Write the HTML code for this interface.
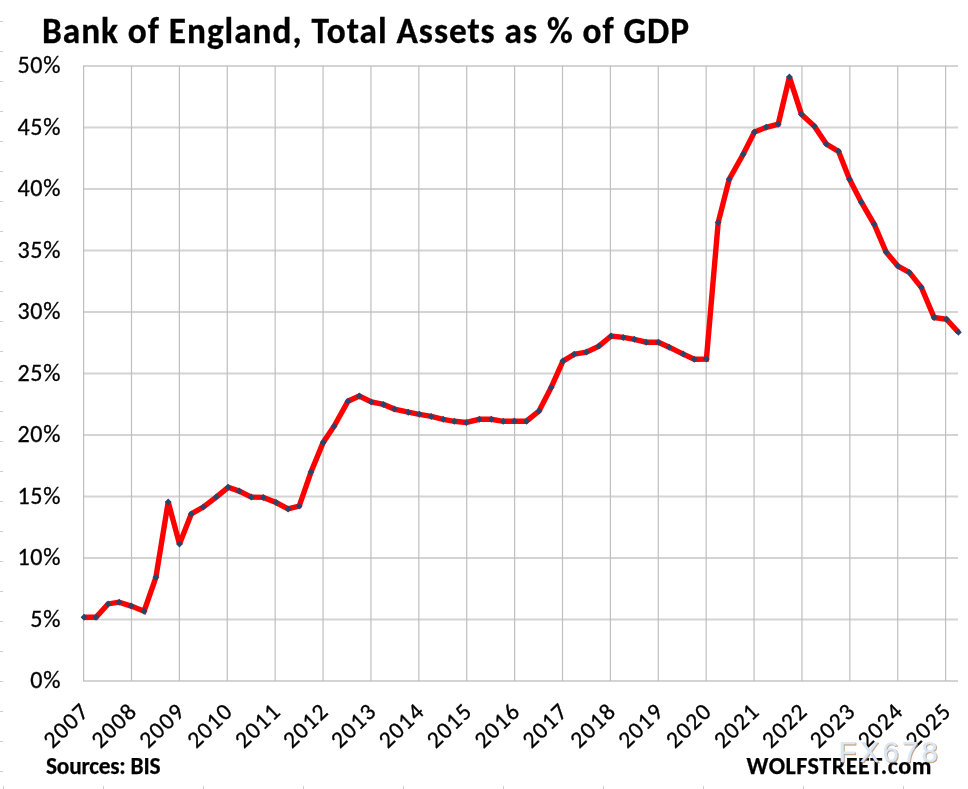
<!DOCTYPE html>
<html><head><meta charset="utf-8"><title>Bank of England, Total Assets as % of GDP</title>
<style>
html,body{margin:0;padding:0;background:#fff;width:968px;height:789px;overflow:hidden}
svg{display:block;font-family:'Carlito','Liberation Sans',sans-serif}
.t{will-change:transform}
</style></head><body>
<svg width="968" height="789" viewBox="0 0 968 789">
<rect width="968" height="789" fill="#fff"/>
<g class="t"><line x1="0" y1="21.5" x2="3" y2="21.5" stroke="#cfcfcf" stroke-width="1"/>
<line x1="0" y1="51.5" x2="3" y2="51.5" stroke="#cfcfcf" stroke-width="1"/>
<line x1="0" y1="81.5" x2="3" y2="81.5" stroke="#cfcfcf" stroke-width="1"/>
<line x1="0" y1="111.5" x2="3" y2="111.5" stroke="#cfcfcf" stroke-width="1"/>
<line x1="0" y1="141.5" x2="3" y2="141.5" stroke="#cfcfcf" stroke-width="1"/>
<line x1="0" y1="171.5" x2="3" y2="171.5" stroke="#cfcfcf" stroke-width="1"/>
<line x1="0" y1="201.5" x2="3" y2="201.5" stroke="#cfcfcf" stroke-width="1"/>
<line x1="0" y1="231.5" x2="3" y2="231.5" stroke="#cfcfcf" stroke-width="1"/>
<line x1="0" y1="261.5" x2="3" y2="261.5" stroke="#cfcfcf" stroke-width="1"/>
<line x1="0" y1="291.5" x2="3" y2="291.5" stroke="#cfcfcf" stroke-width="1"/>
<line x1="0" y1="321.5" x2="3" y2="321.5" stroke="#cfcfcf" stroke-width="1"/>
<line x1="0" y1="351.5" x2="3" y2="351.5" stroke="#cfcfcf" stroke-width="1"/>
<line x1="0" y1="381.5" x2="3" y2="381.5" stroke="#cfcfcf" stroke-width="1"/>
<line x1="0" y1="411.5" x2="3" y2="411.5" stroke="#cfcfcf" stroke-width="1"/>
<line x1="0" y1="441.5" x2="3" y2="441.5" stroke="#cfcfcf" stroke-width="1"/>
<line x1="0" y1="471.5" x2="3" y2="471.5" stroke="#cfcfcf" stroke-width="1"/>
<line x1="0" y1="501.5" x2="3" y2="501.5" stroke="#cfcfcf" stroke-width="1"/>
<line x1="0" y1="531.5" x2="3" y2="531.5" stroke="#cfcfcf" stroke-width="1"/>
<line x1="0" y1="561.5" x2="3" y2="561.5" stroke="#cfcfcf" stroke-width="1"/>
<line x1="0" y1="591.5" x2="3" y2="591.5" stroke="#cfcfcf" stroke-width="1"/>
<line x1="0" y1="621.5" x2="3" y2="621.5" stroke="#cfcfcf" stroke-width="1"/>
<line x1="0" y1="651.5" x2="3" y2="651.5" stroke="#cfcfcf" stroke-width="1"/>
<line x1="0" y1="681.5" x2="3" y2="681.5" stroke="#cfcfcf" stroke-width="1"/>
<line x1="0" y1="711.5" x2="3" y2="711.5" stroke="#cfcfcf" stroke-width="1"/>
<line x1="0" y1="741.5" x2="3" y2="741.5" stroke="#cfcfcf" stroke-width="1"/>
<line x1="0" y1="771.5" x2="3" y2="771.5" stroke="#cfcfcf" stroke-width="1"/>
<line x1="3.5" y1="786" x2="3.5" y2="789" stroke="#cfcfcf" stroke-width="1"/>
<line x1="103.5" y1="786" x2="103.5" y2="789" stroke="#cfcfcf" stroke-width="1"/>
<line x1="203.5" y1="786" x2="203.5" y2="789" stroke="#cfcfcf" stroke-width="1"/>
<line x1="303.5" y1="786" x2="303.5" y2="789" stroke="#cfcfcf" stroke-width="1"/>
<line x1="403.5" y1="786" x2="403.5" y2="789" stroke="#cfcfcf" stroke-width="1"/>
<line x1="503.5" y1="786" x2="503.5" y2="789" stroke="#cfcfcf" stroke-width="1"/>
<line x1="603.5" y1="786" x2="603.5" y2="789" stroke="#cfcfcf" stroke-width="1"/>
<line x1="703.5" y1="786" x2="703.5" y2="789" stroke="#cfcfcf" stroke-width="1"/>
<line x1="803.5" y1="786" x2="803.5" y2="789" stroke="#cfcfcf" stroke-width="1"/>
<line x1="903.5" y1="786" x2="903.5" y2="789" stroke="#cfcfcf" stroke-width="1"/>
<line x1="83.00" y1="680.90" x2="958" y2="680.90" stroke="#d4d4d4" stroke-width="2"/>
<line x1="83.00" y1="619.40" x2="958" y2="619.40" stroke="#d4d4d4" stroke-width="2"/>
<line x1="83.00" y1="557.90" x2="958" y2="557.90" stroke="#d4d4d4" stroke-width="2"/>
<line x1="83.00" y1="496.40" x2="958" y2="496.40" stroke="#d4d4d4" stroke-width="2"/>
<line x1="83.00" y1="434.90" x2="958" y2="434.90" stroke="#d4d4d4" stroke-width="2"/>
<line x1="83.00" y1="373.40" x2="958" y2="373.40" stroke="#d4d4d4" stroke-width="2"/>
<line x1="83.00" y1="311.90" x2="958" y2="311.90" stroke="#d4d4d4" stroke-width="2"/>
<line x1="83.00" y1="250.40" x2="958" y2="250.40" stroke="#d4d4d4" stroke-width="2"/>
<line x1="83.00" y1="188.90" x2="958" y2="188.90" stroke="#d4d4d4" stroke-width="2"/>
<line x1="83.00" y1="127.40" x2="958" y2="127.40" stroke="#d4d4d4" stroke-width="2"/>
<line x1="83.00" y1="65.90" x2="958" y2="65.90" stroke="#d4d4d4" stroke-width="2"/>
<line x1="83.60" y1="65.9" x2="83.60" y2="680.9" stroke="#bfbfbf" stroke-width="1.2"/>
<line x1="131.49" y1="65.9" x2="131.49" y2="680.9" stroke="#bfbfbf" stroke-width="1.2"/>
<line x1="179.38" y1="65.9" x2="179.38" y2="680.9" stroke="#bfbfbf" stroke-width="1.2"/>
<line x1="227.27" y1="65.9" x2="227.27" y2="680.9" stroke="#bfbfbf" stroke-width="1.2"/>
<line x1="275.16" y1="65.9" x2="275.16" y2="680.9" stroke="#bfbfbf" stroke-width="1.2"/>
<line x1="323.05" y1="65.9" x2="323.05" y2="680.9" stroke="#bfbfbf" stroke-width="1.2"/>
<line x1="370.94" y1="65.9" x2="370.94" y2="680.9" stroke="#bfbfbf" stroke-width="1.2"/>
<line x1="418.83" y1="65.9" x2="418.83" y2="680.9" stroke="#bfbfbf" stroke-width="1.2"/>
<line x1="466.72" y1="65.9" x2="466.72" y2="680.9" stroke="#bfbfbf" stroke-width="1.2"/>
<line x1="514.61" y1="65.9" x2="514.61" y2="680.9" stroke="#bfbfbf" stroke-width="1.2"/>
<line x1="562.50" y1="65.9" x2="562.50" y2="680.9" stroke="#bfbfbf" stroke-width="1.2"/>
<line x1="610.39" y1="65.9" x2="610.39" y2="680.9" stroke="#bfbfbf" stroke-width="1.2"/>
<line x1="658.28" y1="65.9" x2="658.28" y2="680.9" stroke="#bfbfbf" stroke-width="1.2"/>
<line x1="706.17" y1="65.9" x2="706.17" y2="680.9" stroke="#bfbfbf" stroke-width="1.2"/>
<line x1="754.06" y1="65.9" x2="754.06" y2="680.9" stroke="#bfbfbf" stroke-width="1.2"/>
<line x1="801.95" y1="65.9" x2="801.95" y2="680.9" stroke="#bfbfbf" stroke-width="1.2"/>
<line x1="849.84" y1="65.9" x2="849.84" y2="680.9" stroke="#bfbfbf" stroke-width="1.2"/>
<line x1="897.73" y1="65.9" x2="897.73" y2="680.9" stroke="#bfbfbf" stroke-width="1.2"/>
<line x1="945.62" y1="65.9" x2="945.62" y2="680.9" stroke="#bfbfbf" stroke-width="1.2"/>
<text x="61.2" y="688.35" text-anchor="end" font-size="23.8" letter-spacing="0.7" textLength="30.84" lengthAdjust="spacingAndGlyphs" fill="#000" stroke="#000" stroke-width="0.3">0%</text>
<text x="61.2" y="626.85" text-anchor="end" font-size="23.8" letter-spacing="0.7" textLength="30.84" lengthAdjust="spacingAndGlyphs" fill="#000" stroke="#000" stroke-width="0.3">5%</text>
<text x="61.2" y="565.35" text-anchor="end" font-size="23.8" letter-spacing="0.7" textLength="43.75" lengthAdjust="spacingAndGlyphs" fill="#000" stroke="#000" stroke-width="0.3">10%</text>
<text x="61.2" y="503.85" text-anchor="end" font-size="23.8" letter-spacing="0.7" textLength="43.75" lengthAdjust="spacingAndGlyphs" fill="#000" stroke="#000" stroke-width="0.3">15%</text>
<text x="61.2" y="442.35" text-anchor="end" font-size="23.8" letter-spacing="0.7" textLength="43.75" lengthAdjust="spacingAndGlyphs" fill="#000" stroke="#000" stroke-width="0.3">20%</text>
<text x="61.2" y="380.85" text-anchor="end" font-size="23.8" letter-spacing="0.7" textLength="43.75" lengthAdjust="spacingAndGlyphs" fill="#000" stroke="#000" stroke-width="0.3">25%</text>
<text x="61.2" y="319.35" text-anchor="end" font-size="23.8" letter-spacing="0.7" textLength="43.75" lengthAdjust="spacingAndGlyphs" fill="#000" stroke="#000" stroke-width="0.3">30%</text>
<text x="61.2" y="257.85" text-anchor="end" font-size="23.8" letter-spacing="0.7" textLength="43.75" lengthAdjust="spacingAndGlyphs" fill="#000" stroke="#000" stroke-width="0.3">35%</text>
<text x="61.2" y="196.35" text-anchor="end" font-size="23.8" letter-spacing="0.7" textLength="43.75" lengthAdjust="spacingAndGlyphs" fill="#000" stroke="#000" stroke-width="0.3">40%</text>
<text x="61.2" y="134.85" text-anchor="end" font-size="23.8" letter-spacing="0.7" textLength="43.75" lengthAdjust="spacingAndGlyphs" fill="#000" stroke="#000" stroke-width="0.3">45%</text>
<text x="61.2" y="73.35" text-anchor="end" font-size="23.8" letter-spacing="0.7" textLength="43.75" lengthAdjust="spacingAndGlyphs" fill="#000" stroke="#000" stroke-width="0.3">50%</text>
<text transform="translate(90.70,712.5) rotate(-44)" text-anchor="end" font-size="23.6" letter-spacing="1.3" textLength="53.05" lengthAdjust="spacingAndGlyphs" fill="#000" stroke="#000" stroke-width="0.3">2007</text>
<text transform="translate(138.59,712.5) rotate(-44)" text-anchor="end" font-size="23.6" letter-spacing="1.3" textLength="53.05" lengthAdjust="spacingAndGlyphs" fill="#000" stroke="#000" stroke-width="0.3">2008</text>
<text transform="translate(186.48,712.5) rotate(-44)" text-anchor="end" font-size="23.6" letter-spacing="1.3" textLength="53.05" lengthAdjust="spacingAndGlyphs" fill="#000" stroke="#000" stroke-width="0.3">2009</text>
<text transform="translate(234.37,712.5) rotate(-44)" text-anchor="end" font-size="23.6" letter-spacing="1.3" textLength="53.05" lengthAdjust="spacingAndGlyphs" fill="#000" stroke="#000" stroke-width="0.3">2010</text>
<text transform="translate(282.26,712.5) rotate(-44)" text-anchor="end" font-size="23.6" letter-spacing="1.3" textLength="53.05" lengthAdjust="spacingAndGlyphs" fill="#000" stroke="#000" stroke-width="0.3">2011</text>
<text transform="translate(330.15,712.5) rotate(-44)" text-anchor="end" font-size="23.6" letter-spacing="1.3" textLength="53.05" lengthAdjust="spacingAndGlyphs" fill="#000" stroke="#000" stroke-width="0.3">2012</text>
<text transform="translate(378.04,712.5) rotate(-44)" text-anchor="end" font-size="23.6" letter-spacing="1.3" textLength="53.05" lengthAdjust="spacingAndGlyphs" fill="#000" stroke="#000" stroke-width="0.3">2013</text>
<text transform="translate(425.93,712.5) rotate(-44)" text-anchor="end" font-size="23.6" letter-spacing="1.3" textLength="53.05" lengthAdjust="spacingAndGlyphs" fill="#000" stroke="#000" stroke-width="0.3">2014</text>
<text transform="translate(473.82,712.5) rotate(-44)" text-anchor="end" font-size="23.6" letter-spacing="1.3" textLength="53.05" lengthAdjust="spacingAndGlyphs" fill="#000" stroke="#000" stroke-width="0.3">2015</text>
<text transform="translate(521.71,712.5) rotate(-44)" text-anchor="end" font-size="23.6" letter-spacing="1.3" textLength="53.05" lengthAdjust="spacingAndGlyphs" fill="#000" stroke="#000" stroke-width="0.3">2016</text>
<text transform="translate(569.60,712.5) rotate(-44)" text-anchor="end" font-size="23.6" letter-spacing="1.3" textLength="53.05" lengthAdjust="spacingAndGlyphs" fill="#000" stroke="#000" stroke-width="0.3">2017</text>
<text transform="translate(617.49,712.5) rotate(-44)" text-anchor="end" font-size="23.6" letter-spacing="1.3" textLength="53.05" lengthAdjust="spacingAndGlyphs" fill="#000" stroke="#000" stroke-width="0.3">2018</text>
<text transform="translate(665.38,712.5) rotate(-44)" text-anchor="end" font-size="23.6" letter-spacing="1.3" textLength="53.05" lengthAdjust="spacingAndGlyphs" fill="#000" stroke="#000" stroke-width="0.3">2019</text>
<text transform="translate(713.27,712.5) rotate(-44)" text-anchor="end" font-size="23.6" letter-spacing="1.3" textLength="53.05" lengthAdjust="spacingAndGlyphs" fill="#000" stroke="#000" stroke-width="0.3">2020</text>
<text transform="translate(761.16,712.5) rotate(-44)" text-anchor="end" font-size="23.6" letter-spacing="1.3" textLength="53.05" lengthAdjust="spacingAndGlyphs" fill="#000" stroke="#000" stroke-width="0.3">2021</text>
<text transform="translate(809.05,712.5) rotate(-44)" text-anchor="end" font-size="23.6" letter-spacing="1.3" textLength="53.05" lengthAdjust="spacingAndGlyphs" fill="#000" stroke="#000" stroke-width="0.3">2022</text>
<text transform="translate(856.94,712.5) rotate(-44)" text-anchor="end" font-size="23.6" letter-spacing="1.3" textLength="53.05" lengthAdjust="spacingAndGlyphs" fill="#000" stroke="#000" stroke-width="0.3">2023</text>
<text transform="translate(904.83,712.5) rotate(-44)" text-anchor="end" font-size="23.6" letter-spacing="1.3" textLength="53.05" lengthAdjust="spacingAndGlyphs" fill="#000" stroke="#000" stroke-width="0.3">2024</text>
<text transform="translate(952.72,712.5) rotate(-44)" text-anchor="end" font-size="23.6" letter-spacing="1.3" textLength="53.05" lengthAdjust="spacingAndGlyphs" fill="#000" stroke="#000" stroke-width="0.3">2025</text>
<path d="M84.00,617.20 L96.00,617.20 L108.10,603.90 L119.10,602.20 L131.30,606.10 L144.10,611.20 L155.90,577.30 L168.20,502.00 L179.50,544.10 L191.30,513.90 L203.30,507.10 L216.20,497.10 L228.20,487.30 L239.20,491.10 L251.30,497.10 L263.30,497.40 L276.10,502.50 L288.10,508.90 L299.20,506.10 L311.00,472.00 L323.20,442.40 L334.10,426.20 L348.00,401.20 L359.30,396.00 L371.30,402.00 L383.40,404.40 L394.40,409.10 L408.30,412.20 L419.40,414.30 L431.30,416.40 L443.20,419.30 L454.30,421.30 L466.30,422.40 L479.40,419.30 L491.30,419.30 L503.20,421.30 L514.30,421.10 L526.40,421.20 L539.00,411.10 L551.20,387.40 L562.90,361.10 L574.20,354.20 L586.40,352.10 L598.90,346.10 L611.10,336.00 L623.30,337.40 L634.30,339.30 L646.30,342.20 L658.40,342.20 L669.20,347.20 L683.20,354.10 L694.30,359.30 L706.40,359.10 L718.20,222.40 L729.20,179.30 L743.20,154.20 L754.40,132.10 L766.20,127.30 L778.20,124.20 L789.40,77.10 L801.40,114.20 L814.40,126.20 L826.30,144.10 L838.50,151.30 L849.50,179.20 L861.30,202.20 L874.20,224.30 L886.10,252.10 L897.90,266.10 L909.30,272.40 L921.30,287.30 L934.10,317.50 L946.50,319.20 L958.40,332.30" fill="none" stroke="#ff0000" stroke-width="5.4" stroke-linejoin="miter" stroke-miterlimit="2" stroke-linecap="butt"/>
<path d="M84.00,613.70 L87.40,617.20 L84.00,620.70 L80.60,617.20 Z" fill="#26476c"/>
<path d="M96.00,613.70 L99.40,617.20 L96.00,620.70 L92.60,617.20 Z" fill="#26476c"/>
<path d="M108.10,600.40 L111.50,603.90 L108.10,607.40 L104.70,603.90 Z" fill="#26476c"/>
<path d="M119.10,598.70 L122.50,602.20 L119.10,605.70 L115.70,602.20 Z" fill="#26476c"/>
<path d="M131.30,602.60 L134.70,606.10 L131.30,609.60 L127.90,606.10 Z" fill="#26476c"/>
<path d="M144.10,607.70 L147.50,611.20 L144.10,614.70 L140.70,611.20 Z" fill="#26476c"/>
<path d="M155.90,573.80 L159.30,577.30 L155.90,580.80 L152.50,577.30 Z" fill="#26476c"/>
<path d="M168.20,498.50 L171.60,502.00 L168.20,505.50 L164.80,502.00 Z" fill="#26476c"/>
<path d="M179.50,540.60 L182.90,544.10 L179.50,547.60 L176.10,544.10 Z" fill="#26476c"/>
<path d="M191.30,510.40 L194.70,513.90 L191.30,517.40 L187.90,513.90 Z" fill="#26476c"/>
<path d="M203.30,503.60 L206.70,507.10 L203.30,510.60 L199.90,507.10 Z" fill="#26476c"/>
<path d="M216.20,493.60 L219.60,497.10 L216.20,500.60 L212.80,497.10 Z" fill="#26476c"/>
<path d="M228.20,483.80 L231.60,487.30 L228.20,490.80 L224.80,487.30 Z" fill="#26476c"/>
<path d="M239.20,487.60 L242.60,491.10 L239.20,494.60 L235.80,491.10 Z" fill="#26476c"/>
<path d="M251.30,493.60 L254.70,497.10 L251.30,500.60 L247.90,497.10 Z" fill="#26476c"/>
<path d="M263.30,493.90 L266.70,497.40 L263.30,500.90 L259.90,497.40 Z" fill="#26476c"/>
<path d="M276.10,499.00 L279.50,502.50 L276.10,506.00 L272.70,502.50 Z" fill="#26476c"/>
<path d="M288.10,505.40 L291.50,508.90 L288.10,512.40 L284.70,508.90 Z" fill="#26476c"/>
<path d="M299.20,502.60 L302.60,506.10 L299.20,509.60 L295.80,506.10 Z" fill="#26476c"/>
<path d="M311.00,468.50 L314.40,472.00 L311.00,475.50 L307.60,472.00 Z" fill="#26476c"/>
<path d="M323.20,438.90 L326.60,442.40 L323.20,445.90 L319.80,442.40 Z" fill="#26476c"/>
<path d="M334.10,422.70 L337.50,426.20 L334.10,429.70 L330.70,426.20 Z" fill="#26476c"/>
<path d="M348.00,397.70 L351.40,401.20 L348.00,404.70 L344.60,401.20 Z" fill="#26476c"/>
<path d="M359.30,392.50 L362.70,396.00 L359.30,399.50 L355.90,396.00 Z" fill="#26476c"/>
<path d="M371.30,398.50 L374.70,402.00 L371.30,405.50 L367.90,402.00 Z" fill="#26476c"/>
<path d="M383.40,400.90 L386.80,404.40 L383.40,407.90 L380.00,404.40 Z" fill="#26476c"/>
<path d="M394.40,405.60 L397.80,409.10 L394.40,412.60 L391.00,409.10 Z" fill="#26476c"/>
<path d="M408.30,408.70 L411.70,412.20 L408.30,415.70 L404.90,412.20 Z" fill="#26476c"/>
<path d="M419.40,410.80 L422.80,414.30 L419.40,417.80 L416.00,414.30 Z" fill="#26476c"/>
<path d="M431.30,412.90 L434.70,416.40 L431.30,419.90 L427.90,416.40 Z" fill="#26476c"/>
<path d="M443.20,415.80 L446.60,419.30 L443.20,422.80 L439.80,419.30 Z" fill="#26476c"/>
<path d="M454.30,417.80 L457.70,421.30 L454.30,424.80 L450.90,421.30 Z" fill="#26476c"/>
<path d="M466.30,418.90 L469.70,422.40 L466.30,425.90 L462.90,422.40 Z" fill="#26476c"/>
<path d="M479.40,415.80 L482.80,419.30 L479.40,422.80 L476.00,419.30 Z" fill="#26476c"/>
<path d="M491.30,415.80 L494.70,419.30 L491.30,422.80 L487.90,419.30 Z" fill="#26476c"/>
<path d="M503.20,417.80 L506.60,421.30 L503.20,424.80 L499.80,421.30 Z" fill="#26476c"/>
<path d="M514.30,417.60 L517.70,421.10 L514.30,424.60 L510.90,421.10 Z" fill="#26476c"/>
<path d="M526.40,417.70 L529.80,421.20 L526.40,424.70 L523.00,421.20 Z" fill="#26476c"/>
<path d="M539.00,407.60 L542.40,411.10 L539.00,414.60 L535.60,411.10 Z" fill="#26476c"/>
<path d="M551.20,383.90 L554.60,387.40 L551.20,390.90 L547.80,387.40 Z" fill="#26476c"/>
<path d="M562.90,357.60 L566.30,361.10 L562.90,364.60 L559.50,361.10 Z" fill="#26476c"/>
<path d="M574.20,350.70 L577.60,354.20 L574.20,357.70 L570.80,354.20 Z" fill="#26476c"/>
<path d="M586.40,348.60 L589.80,352.10 L586.40,355.60 L583.00,352.10 Z" fill="#26476c"/>
<path d="M598.90,342.60 L602.30,346.10 L598.90,349.60 L595.50,346.10 Z" fill="#26476c"/>
<path d="M611.10,332.50 L614.50,336.00 L611.10,339.50 L607.70,336.00 Z" fill="#26476c"/>
<path d="M623.30,333.90 L626.70,337.40 L623.30,340.90 L619.90,337.40 Z" fill="#26476c"/>
<path d="M634.30,335.80 L637.70,339.30 L634.30,342.80 L630.90,339.30 Z" fill="#26476c"/>
<path d="M646.30,338.70 L649.70,342.20 L646.30,345.70 L642.90,342.20 Z" fill="#26476c"/>
<path d="M658.40,338.70 L661.80,342.20 L658.40,345.70 L655.00,342.20 Z" fill="#26476c"/>
<path d="M669.20,343.70 L672.60,347.20 L669.20,350.70 L665.80,347.20 Z" fill="#26476c"/>
<path d="M683.20,350.60 L686.60,354.10 L683.20,357.60 L679.80,354.10 Z" fill="#26476c"/>
<path d="M694.30,355.80 L697.70,359.30 L694.30,362.80 L690.90,359.30 Z" fill="#26476c"/>
<path d="M706.40,355.60 L709.80,359.10 L706.40,362.60 L703.00,359.10 Z" fill="#26476c"/>
<path d="M718.20,218.90 L721.60,222.40 L718.20,225.90 L714.80,222.40 Z" fill="#26476c"/>
<path d="M729.20,175.80 L732.60,179.30 L729.20,182.80 L725.80,179.30 Z" fill="#26476c"/>
<path d="M743.20,150.70 L746.60,154.20 L743.20,157.70 L739.80,154.20 Z" fill="#26476c"/>
<path d="M754.40,128.60 L757.80,132.10 L754.40,135.60 L751.00,132.10 Z" fill="#26476c"/>
<path d="M766.20,123.80 L769.60,127.30 L766.20,130.80 L762.80,127.30 Z" fill="#26476c"/>
<path d="M778.20,120.70 L781.60,124.20 L778.20,127.70 L774.80,124.20 Z" fill="#26476c"/>
<path d="M789.40,73.60 L792.80,77.10 L789.40,80.60 L786.00,77.10 Z" fill="#26476c"/>
<path d="M801.40,110.70 L804.80,114.20 L801.40,117.70 L798.00,114.20 Z" fill="#26476c"/>
<path d="M814.40,122.70 L817.80,126.20 L814.40,129.70 L811.00,126.20 Z" fill="#26476c"/>
<path d="M826.30,140.60 L829.70,144.10 L826.30,147.60 L822.90,144.10 Z" fill="#26476c"/>
<path d="M838.50,147.80 L841.90,151.30 L838.50,154.80 L835.10,151.30 Z" fill="#26476c"/>
<path d="M849.50,175.70 L852.90,179.20 L849.50,182.70 L846.10,179.20 Z" fill="#26476c"/>
<path d="M861.30,198.70 L864.70,202.20 L861.30,205.70 L857.90,202.20 Z" fill="#26476c"/>
<path d="M874.20,220.80 L877.60,224.30 L874.20,227.80 L870.80,224.30 Z" fill="#26476c"/>
<path d="M886.10,248.60 L889.50,252.10 L886.10,255.60 L882.70,252.10 Z" fill="#26476c"/>
<path d="M897.90,262.60 L901.30,266.10 L897.90,269.60 L894.50,266.10 Z" fill="#26476c"/>
<path d="M909.30,268.90 L912.70,272.40 L909.30,275.90 L905.90,272.40 Z" fill="#26476c"/>
<path d="M921.30,283.80 L924.70,287.30 L921.30,290.80 L917.90,287.30 Z" fill="#26476c"/>
<path d="M934.10,314.00 L937.50,317.50 L934.10,321.00 L930.70,317.50 Z" fill="#26476c"/>
<path d="M946.50,315.70 L949.90,319.20 L946.50,322.70 L943.10,319.20 Z" fill="#26476c"/>
<path d="M958.40,328.80 L961.80,332.30 L958.40,335.80 L955.00,332.30 Z" fill="#26476c"/>
<text x="42" y="43" font-size="35.3" font-weight="bold" textLength="647" fill="#000" stroke="#000" stroke-width="0.3">Bank of England, Total Assets as % of GDP</text>
<text x="46" y="773.9" font-size="23.3" font-weight="bold" textLength="114.5" fill="#000" stroke="#000" stroke-width="0.25">Sources: BIS</text>
<text x="746.6" y="774.1" font-size="24.2" font-weight="bold" textLength="184.8" fill="#000" stroke="#000" stroke-width="0.25">WOLFSTREET.com</text>
<text x="839.6" y="763.1" font-size="29.2" letter-spacing="3.3" font-family="'Liberation Sans',Arial,sans-serif" fill="#b98f6c" stroke="#b98f6c" stroke-width="0.3" opacity="0.8">FX678</text>
<text x="838.5" y="762.0" font-size="29.2" letter-spacing="3.3" font-family="'Liberation Sans',Arial,sans-serif" fill="#d9e8f9" stroke="#d9e8f9" stroke-width="0.2">FX678</text></g>
</svg>
</body></html>
